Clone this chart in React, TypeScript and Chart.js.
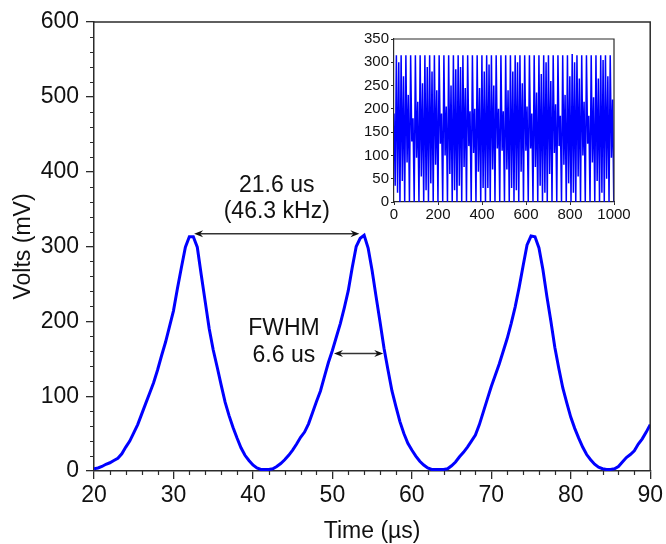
import React, { useEffect, useRef } from "react";
import { Chart, registerables } from "chart.js";

Chart.register(...registerables);

// ---- main trace: sampled every 0.5 µs from 20 µs ----
const mainStart = 20;
const mainStep = 0.5;
const mainVolts = [
  3, 4, 6, 9, 11, 14, 17, 23, 32, 40,
  51, 62, 76, 90, 104, 118, 135, 154, 172, 193,
  214, 244, 272, 299, 313, 313, 299, 262, 226, 190,
  162, 139, 115, 92, 74, 58, 44, 31, 21, 14,
  8, 4, 2, 2, 2, 3, 6, 10, 15, 21,
  28, 36, 45, 52, 63, 78, 93, 107, 126, 145,
  161, 179, 197, 218, 241, 272, 300, 311, 315, 298,
  268, 233, 199, 164, 135, 107, 86, 66, 50, 37,
  28, 20, 13, 8, 4, 2, 2, 2, 2, 3,
  7, 12, 19, 25, 32, 40, 48, 62, 79, 96,
  113, 128, 143, 160, 177, 197, 219, 245, 274, 302,
  314, 313, 298, 269, 233, 200, 165, 137, 111, 91,
  72, 57, 44, 32, 22, 15, 9, 5, 3, 2,
  2, 3, 6, 12, 18, 22, 27, 36, 43, 52,
  62,
];

// ---- inset trace: sampled every 5.4 µs from 0 µs ----
const insetStart = 0;
const insetStep = 5.4;
const insetVolts = [
  190, 35,
  315, 20, 300, 0,
  315, 45, 270, 0,
  315, 85, 230, 0,
  315, 130, 180, 0,
  315, 95, 215, 0,
  315, 55, 255, 0,
  315, 25, 290, 0,
  315, 40, 280, 0,
  315, 80, 240, 0,
  315, 125, 190, 0,
  315, 100, 205, 0,
  315, 60, 250, 0,
  315, 25, 285, 0,
  315, 35, 290, 0,
  315, 75, 245, 0,
  315, 120, 195, 0,
  315, 105, 200, 0,
  315, 65, 245, 0,
  315, 30, 280, 0,
  315, 30, 295, 0,
  315, 70, 250, 0,
  315, 115, 200, 0,
  315, 110, 195, 0,
  315, 70, 240, 0,
  315, 30, 280, 0,
  315, 25, 300, 0,
  315, 65, 255, 0,
  315, 110, 205, 0,
  315, 115, 190, 0,
  315, 75, 235, 0,
  315, 35, 275, 0,
  315, 20, 300, 0,
  315, 60, 260, 0,
  315, 105, 210, 0,
  315, 120, 185, 0,
  315, 80, 230, 0,
  315, 40, 270, 0,
  318, 20, 300, 0,
  315, 55, 265, 0,
  315, 100, 215, 0,
  315, 125, 185, 0,
  315, 85, 225, 0,
  315, 45, 265, 0,
  315, 20, 305, 0,
  315, 50, 270, 0,
  315, 95, 220, 0,
];

// ---- axes ----
const xMin = 20, xMax = 90, xMajor = 10, xMinor = 2;
const yMin = 0, yMax = 600, yMajor = 100, yMinor = 20;
const insetXMin = 0, insetXMax = 1000, insetXMajor = 200;
const insetYMin = 0, insetYMax = 350, insetYMajor = 50;

// ---- annotations (data coordinates) ----
const periodArrow = { from: 32.6, to: 53.4, at: 317 };
const fwhmArrow = { from: 50.2, to: 56.4, at: 157 };
const periodText = { x: 43.0, lines: ["21.6 us", "(46.3 kHz)"], ys: [373, 338] };
const fwhmText = { x: 43.9, lines: ["FWHM", "6.6 us"], ys: [182, 145] };

const FONT = "'Liberation Sans', Arial, sans-serif";
const AXIS = "#2b2b2b";
const TEXT = "#111";

function drawArrowHead(ctx: CanvasRenderingContext2D, x: number, y: number, dir: number) {
  ctx.beginPath();
  ctx.moveTo(x, y);
  ctx.lineTo(x - dir * 9, y - 3.5);
  ctx.lineTo(x - dir * 6, y);
  ctx.lineTo(x - dir * 9, y + 3.5);
  ctx.closePath();
  ctx.fill();
}

function drawDoubleArrow(chart: any, a: { from: number; to: number; at: number }) {
  const { ctx, scales } = chart;
  const x1 = scales.x.getPixelForValue(a.from);
  const x2 = scales.x.getPixelForValue(a.to);
  const y = scales.y.getPixelForValue(a.at);
  ctx.save();
  ctx.strokeStyle = "#333";
  ctx.fillStyle = "#111";
  ctx.lineWidth = 1.6;
  ctx.beginPath();
  ctx.moveTo(x1 + 4, y);
  ctx.lineTo(x2 - 4, y);
  ctx.stroke();
  drawArrowHead(ctx, x1, y, -1);
  drawArrowHead(ctx, x2, y, 1);
  ctx.restore();
}

function drawText(chart: any, t: { x: number; lines: string[]; ys: number[] }) {
  const { ctx, scales } = chart;
  ctx.save();
  ctx.font = `23px ${FONT}`;
  ctx.fillStyle = TEXT;
  ctx.textAlign = "center";
  ctx.textBaseline = "alphabetic";
  t.lines.forEach((line, i) => {
    ctx.fillText(line, scales.x.getPixelForValue(t.x), scales.y.getPixelForValue(t.ys[i]));
  });
  ctx.restore();
}

const mainDecor = {
  id: "mainDecor",
  afterDraw(chart: any) {
    const { ctx, chartArea, scales } = chart;
    ctx.save();
    ctx.strokeStyle = AXIS;
    ctx.lineWidth = 1.5;
    ctx.beginPath();
    ctx.moveTo(chartArea.left, chartArea.top);
    ctx.lineTo(chartArea.right, chartArea.top);
    ctx.lineTo(chartArea.right, chartArea.bottom);
    ctx.stroke();
    ctx.lineWidth = 1.2;
    ctx.beginPath();
    for (let v = xMin; v <= xMax + 1e-9; v += xMinor) {
      if (Math.abs(v / xMajor - Math.round(v / xMajor)) < 1e-6) continue;
      const px = Math.round(scales.x.getPixelForValue(v)) + 0.5;
      ctx.moveTo(px, chartArea.bottom);
      ctx.lineTo(px, chartArea.bottom + 4);
    }
    for (let v = yMin; v <= yMax + 1e-9; v += yMinor) {
      if (Math.abs(v / yMajor - Math.round(v / yMajor)) < 1e-6) continue;
      const py = Math.round(scales.y.getPixelForValue(v)) + 0.5;
      ctx.moveTo(chartArea.left - 4, py);
      ctx.lineTo(chartArea.left, py);
    }
    ctx.stroke();
    ctx.restore();
    drawDoubleArrow(chart, periodArrow);
    drawDoubleArrow(chart, fwhmArrow);
    drawText(chart, periodText);
    drawText(chart, fwhmText);
  },
};

const insetDecor = {
  id: "insetDecor",
  afterDraw(chart: any) {
    const { ctx, chartArea } = chart;
    ctx.save();
    ctx.strokeStyle = AXIS;
    ctx.lineWidth = 1.2;
    ctx.beginPath();
    ctx.moveTo(chartArea.left, chartArea.top);
    ctx.lineTo(chartArea.right, chartArea.top);
    ctx.lineTo(chartArea.right, chartArea.bottom);
    ctx.stroke();
    ctx.restore();
  },
};

const plainLabel = (v: any) => String(v);

export default function App() {
  const mainRef = useRef<HTMLCanvasElement>(null);
  const insetRef = useRef<HTMLCanvasElement>(null);

  useEffect(() => {
    const tickFont = { family: FONT, size: 23 };
    const main = new Chart(mainRef.current!, {
      type: "line",
      data: {
        datasets: [
          {
            data: mainVolts.map((v, i) => ({ x: mainStart + i * mainStep, y: v })),
            borderColor: "#0000ff",
            borderWidth: 3,
            pointRadius: 0,
            tension: 0,
          },
        ],
      },
      options: {
        animation: false,
        responsive: false,
        events: [],
        layout: { padding: { left: 0, top: 22, right: 15, bottom: 0 } },
        plugins: { legend: { display: false }, tooltip: { enabled: false } },
        scales: {
          x: {
            type: "linear",
            min: xMin,
            max: xMax,
            ticks: { stepSize: xMajor, font: tickFont, color: TEXT, padding: 3, maxRotation: 0, callback: plainLabel },
            grid: { drawOnChartArea: false, tickLength: 8, color: AXIS, lineWidth: 1.3 },
            border: { color: AXIS, width: 1.5 },
            title: { display: true, text: "Time (µs)", font: tickFont, color: TEXT, padding: { top: 0, bottom: -1 } },
            afterFit: (s: any) => { s.height = 73; },
          },
          y: {
            type: "linear",
            min: yMin,
            max: yMax,
            ticks: { stepSize: yMajor, font: tickFont, color: TEXT, padding: 7, callback: plainLabel },
            grid: { drawOnChartArea: false, tickLength: 8, color: AXIS, lineWidth: 1.3 },
            border: { color: AXIS, width: 1.5 },
            title: { display: true, text: "Volts (mV)", font: tickFont, color: TEXT, padding: { top: 10, bottom: 0 } },
            afterFit: (s: any) => { s.width = 94; },
          },
        },
      },
      plugins: [mainDecor],
    });

    const insetFont = { family: FONT, size: 15 };
    const inset = new Chart(insetRef.current!, {
      type: "line",
      data: {
        datasets: [
          {
            data: insetVolts.map((v, i) => ({ x: insetStart + i * insetStep, y: v })),
            borderColor: "#0000ff",
            borderWidth: 1.5,
            pointRadius: 0,
            tension: 0,
          },
        ],
      },
      options: {
        animation: false,
        responsive: false,
        events: [],
        layout: { padding: { left: 0, top: 13, right: 26, bottom: 0 } },
        plugins: { legend: { display: false }, tooltip: { enabled: false } },
        scales: {
          x: {
            type: "linear",
            min: insetXMin,
            max: insetXMax,
            ticks: { stepSize: insetXMajor, font: insetFont, color: TEXT, padding: 1, maxRotation: 0, callback: plainLabel },
            grid: { drawOnChartArea: false, tickLength: 3, color: AXIS, lineWidth: 1 },
            border: { color: AXIS, width: 1.2 },
            afterFit: (s: any) => { s.height = 24; },
          },
          y: {
            type: "linear",
            min: insetYMin,
            max: insetYMax,
            ticks: { stepSize: insetYMajor, font: insetFont, color: TEXT, padding: 2, callback: plainLabel },
            grid: { drawOnChartArea: false, tickLength: 3, color: AXIS, lineWidth: 1 },
            border: { color: AXIS, width: 1.2 },
            afterFit: (s: any) => { s.width = 54; },
          },
        },
      },
      plugins: [insetDecor],
    });

    return () => {
      main.destroy();
      inset.destroy();
    };
  }, []);

  return (
    <div style={{ position: "fixed", left: 0, top: 0, width: 666, height: 544, background: "#fff" }}>
      <canvas ref={mainRef} width={666} height={544} style={{ position: "absolute", left: 0, top: 0, display: "block" }} />
      <canvas ref={insetRef} width={300} height={200} style={{ position: "absolute", left: 340, top: 26, display: "block" }} />
    </div>
  );
}
